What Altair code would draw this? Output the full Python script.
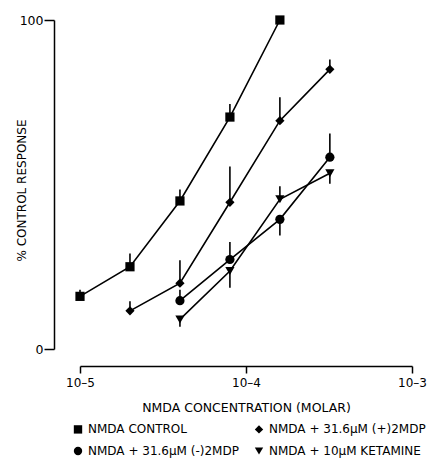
import altair as alt
import pandas as pd

# ---- data ----
series_names = [
    "NMDA CONTROL",
    "NMDA + 31.6\u03bcM (+)2MDP",
    "NMDA + 31.6\u03bcM (-)2MDP",
    "NMDA + 10\u03bcM KETAMINE",
]
series_shapes = ["square", "diamond", "circle", "triangle-down"]

conc_control = [1e-5, 2e-5, 4e-5, 8e-5, 1.6e-4]
resp_control = [16, 25, 45, 70.5, 100]
errend_control = [18, 29, 48.5, 74.5, 100]

conc_plus = [2e-5, 4e-5, 8e-5, 1.6e-4, 3.2e-4]
resp_plus = [11.6, 20, 44.6, 69.4, 85]
errend_plus = [14.5, 27, 55.5, 76.5, 88]

conc_minus = [4e-5, 8e-5, 1.6e-4, 3.2e-4]
resp_minus = [14.7, 27.2, 39.4, 58.3]
errend_minus = [18, 32.5, 34.5, 65.5]

conc_ket = [4e-5, 8e-5, 1.6e-4, 3.2e-4]
resp_ket = [9, 23.7, 45.5, 53.4]
errend_ket = [6.8, 18.6, 49.5, 50.2]

x_ticks = [1e-5, 1e-4, 1e-3]
x_tick_exponents = [-5, -4, -3]
x_tick_labels = ["10\u20135", "10\u20134", "10\u20133"]
y_ticks = [0, 100]

# ---- build table ----
rows = []
for name, cs, rs, es in [
    (series_names[0], conc_control, resp_control, errend_control),
    (series_names[1], conc_plus, resp_plus, errend_plus),
    (series_names[2], conc_minus, resp_minus, errend_minus),
    (series_names[3], conc_ket, resp_ket, errend_ket),
]:
    for c, r, e in zip(cs, rs, es):
        rows.append({"series": name, "conc": c, "resp": r, "err": e})
df = pd.DataFrame(rows)

label_expr = " : ".join(
    f"abs(log(datum.value)/log(10) - ({v})) < 0.01 ? '{l}'"
    for v, l in zip(x_tick_exponents, x_tick_labels)
) + " : ''"

FONT = "DejaVu Sans"

x_enc = alt.X(
    "conc:Q",
    scale=alt.Scale(type="log", domain=[1e-5, 1e-3], nice=False),
    axis=alt.Axis(
        values=x_ticks,
        labelExpr=label_expr,
        title="NMDA CONCENTRATION (MOLAR)",
        offset=17,
        tickSize=7,
        tickWidth=1.5,
        domainWidth=1.5,
        domainColor="black",
        tickColor="black",
        labelColor="black",
        titleColor="black",
        labelFontSize=12,
        titleFontSize=12.5,
        titleFontWeight="normal",
        labelPadding=4,
        titlePadding=13,
        grid=False,
        labelFlush=False,
    ),
)
y_enc = alt.Y(
    "resp:Q",
    scale=alt.Scale(domain=[0, 100], nice=False),
    axis=alt.Axis(
        values=y_ticks,
        title="% CONTROL RESPONSE",
        offset=26,
        tickSize=10,
        tickWidth=1.5,
        domainWidth=1.5,
        domainColor="black",
        tickColor="black",
        labelColor="black",
        titleColor="black",
        labelFontSize=12.5,
        titleFontSize=12,
        titleFontWeight="normal",
        labelPadding=1,
        grid=False,
        titleX=-33,
        titleY=170,
        titleAlign="center",
        titleBaseline="middle",
        titleAngle=270,
    ),
)

base = alt.Chart(df)

lines = base.mark_line(color="black", strokeWidth=1.6).encode(
    x=x_enc, y=y_enc, detail="series:N"
)

errs = base.mark_rule(color="black", strokeWidth=1.6).encode(
    x="conc:Q", y="resp:Q", y2="err:Q"
)

points = base.mark_point(filled=True, color="black", opacity=1, size=85).encode(
    x="conc:Q",
    y="resp:Q",
    shape=alt.Shape(
        "series:N",
        scale=alt.Scale(domain=series_names, range=series_shapes),
        legend=alt.Legend(
            title=None,
            orient="none",
            direction="horizontal",
            legendX=-8,
            legendY=403,
            columns=2,
            columnPadding=12,
            rowPadding=6,
            padding=0,
            symbolSize=70,
            symbolFillColor="black",
            symbolStrokeColor="black",
            symbolOpacity=1,
            labelFontSize=12,
            labelColor="black",
            labelLimit=300,
            labelOffset=4,
        ),
    ),
)

chart = (
    alt.layer(lines, errs, points)
    .properties(
        width=332,
        height=329,
        autosize=alt.AutoSizeParams(type="none"),
        padding={"left": 72, "top": 12, "right": 28, "bottom": 114},
        background="white",
    )
    .configure(font=FONT, view=alt.ViewConfig(stroke="transparent", strokeWidth=0))
)

chart.save("out.html", embed_options={"renderer": "svg", "actions": False})
